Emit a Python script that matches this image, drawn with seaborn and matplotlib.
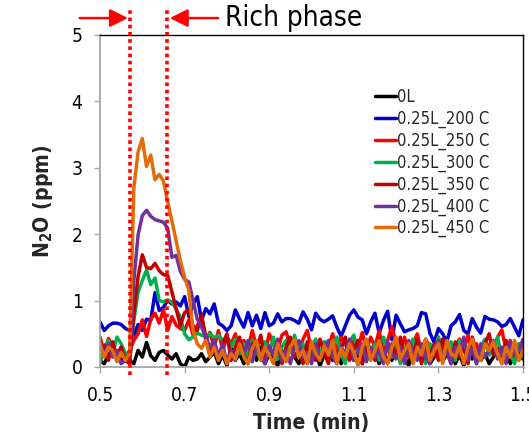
import numpy as np
import pandas as pd
import matplotlib
matplotlib.use("Agg")
import matplotlib.pyplot as plt
import matplotlib.transforms as mtransforms
from matplotlib import font_manager
import seaborn as sns

# Sampling times (min), one reading every 0.01 min
time_min = np.round(0.5 + 0.01 * np.arange(101), 2)

series_names = ["0L", "0.25L_200 C", "0.25L_250 C", "0.25L_300 C",
                "0.25L_350 C", "0.25L_400 C", "0.25L_450 C"]
series_colors = ["#000000", "#0000CC", "#FF0000", "#00B050",
                 "#C00000", "#7030A0", "#E36C09"]

n2o_0L = [
    0.10, 0.05, 0.18, 0.25, 0.12, 0.08, 0.20, 0.10,
    0.05, 0.25, 0.15, 0.37, 0.17, 0.10, 0.22, 0.25, 0.18, 0.12, 0.20, 0.05, 0.00, 0.15, 0.10, 0.12,
    0.20, 0.08, 0.15, 0.22, 0.05, 0.18, 0.02, 0.30, 0.10, 0.20,
    0.05, 0.15, 0.25, 0.10, 0.30, 0.05, 0.20, 0.12, 0.02, 0.25,
    0.10, 0.35, 0.15, 0.05, 0.20, 0.30, 0.08, 0.22, 0.02, 0.18,
    0.25, 0.10, 0.30, 0.05, 0.15, 0.28, 0.10, 0.20, 0.05, 0.30,
    0.12, 0.22, 0.05, 0.18, 0.30, 0.10, 0.25, 0.08, 0.15, 0.02,
    0.38, 0.20, 0.10, 0.28, 0.05, 0.15, 0.25, 0.08, 0.20, 0.30,
    0.05, 0.18, 0.02, 0.25, 0.12, 0.30, 0.10, 0.20, 0.05, 0.15,
    0.28, 0.10, 0.22, 0.05, 0.18, 0.25, 0.12,
]
n2o_200C = [
    0.68, 0.55, 0.62, 0.66, 0.66, 0.64, 0.58, 0.55,
    0.48, 0.64, 0.55, 0.72, 0.70, 1.12, 0.85, 0.90, 1.00, 0.95, 0.98, 0.92, 1.06, 0.76, 0.95, 1.06,
    0.70, 0.88, 0.80, 0.95, 0.66, 0.62, 0.55, 0.62, 0.86, 0.72,
    0.60, 0.82, 0.62, 0.78, 0.58, 0.82, 0.62, 0.66, 0.80, 0.68,
    0.73, 0.73, 0.70, 0.66, 0.83, 0.72, 0.56, 0.81, 0.72, 0.68,
    0.72, 0.77, 0.60, 0.46, 0.62, 0.78, 0.86, 0.75, 0.71, 0.50,
    0.68, 0.81, 0.51, 0.70, 0.84, 0.41, 0.78, 0.65, 0.53, 0.56,
    0.58, 0.62, 0.82, 0.80, 0.51, 0.37, 0.58, 0.50, 0.38, 0.62,
    0.68, 0.79, 0.55, 0.50, 0.73, 0.60, 0.51, 0.76, 0.72, 0.71,
    0.68, 0.61, 0.64, 0.73, 0.60, 0.47, 0.71,
]
n2o_250C = [
    0.45, 0.20, 0.43, 0.30, 0.18, 0.30, 0.15, 0.25,
    0.40, 0.50, 0.71, 0.46, 0.72, 0.81, 0.66, 0.86, 0.55, 0.76, 0.63, 0.58, 0.55, 0.71, 0.48, 0.62,
    0.76, 0.40, 0.52, 0.30, 0.55, 0.25, 0.45, 0.35, 0.50, 0.20,
    0.40, 0.28, 0.55, 0.30, 0.45, 0.20, 0.50, 0.35, 0.25, 0.48,
    0.53, 0.30, 0.45, 0.20, 0.42, 0.55, 0.25, 0.40, 0.15, 0.38,
    0.30, 0.50, 0.22, 0.45, 0.35, 0.18, 0.40, 0.28, 0.52, 0.25,
    0.45, 0.30, 0.55, 0.20, 0.40, 0.61, 0.35, 0.25, 0.45, 0.15,
    0.35, 0.50, 0.22, 0.42, 0.30, 0.18, 0.45, 0.25, 0.38, 0.20,
    0.30, 0.42, 0.25, 0.48, 0.20, 0.35, 0.15, 0.40, 0.30, 0.22,
    0.45, 0.56, 0.25, 0.40, 0.18, 0.35, 0.28,
]
n2o_300C = [
    0.05, 0.30, 0.40, 0.20, 0.45, 0.35, 0.20, 0.12,
    0.70, 1.13, 1.30, 1.46, 1.24, 1.34, 1.00, 0.98, 1.01, 0.98, 0.87, 0.75, 0.50, 0.41, 0.45, 0.51,
    0.48, 0.46, 0.50, 0.44, 0.48, 0.40, 0.45, 0.30, 0.42, 0.20,
    0.35, 0.15, 0.40, 0.25, 0.10, 0.38, 0.20, 0.45, 0.12, 0.30,
    0.40, 0.22, 0.48, 0.15, 0.35, 0.05, 0.30, 0.42, 0.18, 0.38,
    0.10, 0.32, 0.45, 0.20, 0.05, 0.38, 0.48, 0.25, 0.15, 0.40,
    0.22, 0.35, 0.10, 0.45, 0.28, 0.15, 0.38, 0.05, 0.30, 0.20,
    0.42, 0.15, 0.30, 0.05, 0.35, 0.22, 0.45, 0.12, 0.28, 0.38,
    0.10, 0.40, 0.25, 0.15, 0.35, 0.05, 0.30, 0.42, 0.18, 0.25,
    0.45, 0.12, 0.30, 0.20, 0.05, 0.35, 0.15,
]
n2o_350C = [
    0.25, 0.33, 0.10, 0.38, 0.15, 0.30, 0.10, 0.05,
    0.80, 1.36, 1.69, 1.50, 1.48, 1.56, 1.45, 1.39, 1.38, 1.13, 0.88, 0.62, 0.82, 0.86, 0.62, 0.55,
    0.78, 0.46, 0.20, 0.40, 0.15, 0.35, 0.50, 0.10, 0.30, 0.45,
    0.18, 0.05, 0.35, 0.25, 0.48, 0.10, 0.30, 0.20, 0.40, 0.05,
    0.30, 0.45, 0.15, 0.25, 0.05, 0.38, 0.20, 0.10, 0.42, 0.22,
    0.05, 0.35, 0.15, 0.28, 0.45, 0.10, 0.25, 0.40, 0.05, 0.30,
    0.20, 0.10, 0.42, 0.25, 0.05, 0.35, 0.15, 0.45, 0.08, 0.30,
    0.18, 0.40, 0.05, 0.28, 0.15, 0.35, 0.10, 0.42, 0.22, 0.05,
    0.38, 0.15, 0.30, 0.05, 0.45, 0.20, 0.10, 0.35, 0.50, 0.18,
    0.28, 0.05, 0.40, 0.15, 0.30, 0.10, 0.25,
]
n2o_400C = [
    0.30, 0.20, 0.35, 0.15, 0.25, 0.05, 0.10, 0.15,
    1.30, 1.99, 2.28, 2.36, 2.27, 2.22, 2.20, 2.18, 2.09, 1.65, 1.68, 1.44, 1.32, 1.28, 1.00, 0.72,
    0.60, 0.45, 0.30, 0.40, 0.15, 0.35, 0.05, 0.25, 0.10, 0.30,
    0.20, 0.40, 0.08, 0.28, 0.15, 0.05, 0.32, 0.18, 0.42, 0.10,
    0.25, 0.05, 0.30, 0.40, 0.15, 0.22, 0.05, 0.35, 0.12, 0.28,
    0.40, 0.15, 0.05, 0.30, 0.20, 0.42, 0.10, 0.25, 0.35, 0.08,
    0.30, 0.15, 0.25, 0.05, 0.38, 0.20, 0.12, 0.30, 0.05, 0.40,
    0.22, 0.10, 0.35, 0.15, 0.05, 0.28, 0.40, 0.12, 0.25, 0.05,
    0.30, 0.20, 0.45, 0.10, 0.28, 0.05, 0.35, 0.15, 0.25, 0.40,
    0.12, 0.30, 0.05, 0.38, 0.20, 0.25, 0.42,
]
n2o_450C = [
    0.35, 0.15, 0.30, 0.25, 0.08, 0.22, 0.10, 0.20,
    2.70, 3.24, 3.44, 3.02, 3.19, 2.82, 2.90, 2.80, 2.49, 2.20, 1.90, 1.60, 1.35, 1.15, 0.55, 0.35,
    0.28, 0.40, 0.15, 0.30, 0.10, 0.25, 0.05, 0.20, 0.12, 0.35,
    0.15, 0.05, 0.28, 0.40, 0.10, 0.30, 0.18, 0.05, 0.35, 0.20,
    0.08, 0.30, 0.42, 0.15, 0.25, 0.05, 0.38, 0.20, 0.10, 0.32,
    0.18, 0.40, 0.05, 0.28, 0.15, 0.35, 0.22, 0.02, 0.30, 0.42,
    0.10, 0.25, 0.40, 0.15, 0.05, 0.30, 0.45, 0.12, 0.25, 0.35,
    0.05, 0.30, 0.18, 0.42, 0.10, 0.25, 0.35, 0.05, 0.40, 0.20,
    0.15, 0.32, 0.05, 0.28, 0.42, 0.18, 0.10, 0.35, 0.25, 0.38,
    0.20, 0.05, 0.30, 0.15, 0.40, 0.10, 0.25,
]

# Rich-phase window (min)
rich_start, rich_end = 0.571, 0.658

series_values = [n2o_0L, n2o_200C, n2o_250C, n2o_300C, n2o_350C, n2o_400C, n2o_450C]
df = pd.concat(
    [pd.DataFrame({"Time": time_min, "N2O": vals, "Series": name})
     for name, vals in zip(series_names, series_values)],
    ignore_index=True,
)

sns.set_theme(style="white")

# Pick a narrow sans face if one is available, else plain Liberation Sans
installed = {(f.name, str(f.stretch)) for f in font_manager.fontManager.ttflist}
names = {n for n, _ in installed}
scale = 1.0
if "Liberation Sans Narrow" in names:
    plt.rcParams["font.family"] = ["Liberation Sans Narrow", "DejaVu Sans"]
elif any(n == "DejaVu Sans" and s in ("condensed", "semi-condensed", "75", "87.5")
         for n, s in installed):
    plt.rcParams["font.family"] = ["DejaVu Sans"]
    plt.rcParams["font.stretch"] = "condensed"
    scale = 0.95
else:
    plt.rcParams["font.family"] = ["Liberation Sans", "DejaVu Sans"]
    scale = 0.9

fig = plt.figure(figsize=(5.29, 4.43), dpi=100)
ax = fig.add_axes([100 / 529, 1 - 367 / 443, 423 / 529, 332 / 443])

sns.lineplot(data=df, x="Time", y="N2O", hue="Series", hue_order=series_names,
             palette=series_colors, estimator=None, sort=False, linewidth=2.5,
             ax=ax)

ax.set_xlim(0.5, 1.5)
ax.set_ylim(0, 5)
ax.set_xticks([0.5, 0.7, 0.9, 1.1, 1.3, 1.5])
ax.set_xticklabels(["0.5", "0.7", "0.9", "1.1", "1.3", "1.5"])
ax.set_yticks([0, 1, 2, 3, 4, 5])
ax.set_yticklabels(["0", "1", "2", "3", "4", "5"])

gray = "#A6A6A6"
for side in ("left", "bottom"):
    ax.spines[side].set_color(gray)
    ax.spines[side].set_linewidth(1.3)
for side in ("top", "right"):
    ax.spines[side].set_color("black")
    ax.spines[side].set_linewidth(1.0)
ax.tick_params(axis="both", which="major", direction="out", length=4.5, width=1.0,
               color=gray, labelsize=14.5 * scale, labelcolor="black")
ax.tick_params(axis="y", pad=8, left=True)
ax.tick_params(axis="x", pad=9, bottom=True)

ax.set_xlabel("Time (min)", fontsize=16 * scale, fontweight="bold", labelpad=6)
ax.set_ylabel(r"$\mathregular{N_2O}$ (ppm)", fontsize=16 * scale, fontweight="bold",
              labelpad=12)

# Rich-phase boundaries
trans = mtransforms.blended_transform_factory(ax.transData, ax.transAxes)
for xv in (rich_start, rich_end):
    ax.plot([xv, xv], [-0.025, 1.075], transform=trans, color="#FF0000",
            linewidth=2.6, linestyle=(0, (1, 1)), clip_on=False, zorder=5)

arrow_kw = dict(arrowstyle="-|>,head_length=0.9,head_width=0.45",
                color="#FF0000", linewidth=1.8, shrinkA=0, shrinkB=0)
ax.annotate("", xy=(0.566, 1.051), xytext=(0.452, 1.051), xycoords=trans,
            textcoords=trans, arrowprops=arrow_kw, annotation_clip=False)
ax.annotate("", xy=(0.665, 1.051), xytext=(0.779, 1.051), xycoords=trans,
            textcoords=trans, arrowprops=arrow_kw, annotation_clip=False)
ax.text(0.7955, 1.051, "Rich phase", transform=trans, fontsize=21 * scale,
        ha="left", va="center", color="black", clip_on=False)

leg = ax.legend(loc="upper left", bbox_to_anchor=(0.635, 0.86), frameon=False,
                fontsize=12.5 * scale, handlelength=1.25, handletextpad=0.05,
                labelspacing=0.22, borderaxespad=0)
for line in leg.get_lines():
    line.set_linewidth(2.5)

fig.savefig("out.png", dpi=100)
